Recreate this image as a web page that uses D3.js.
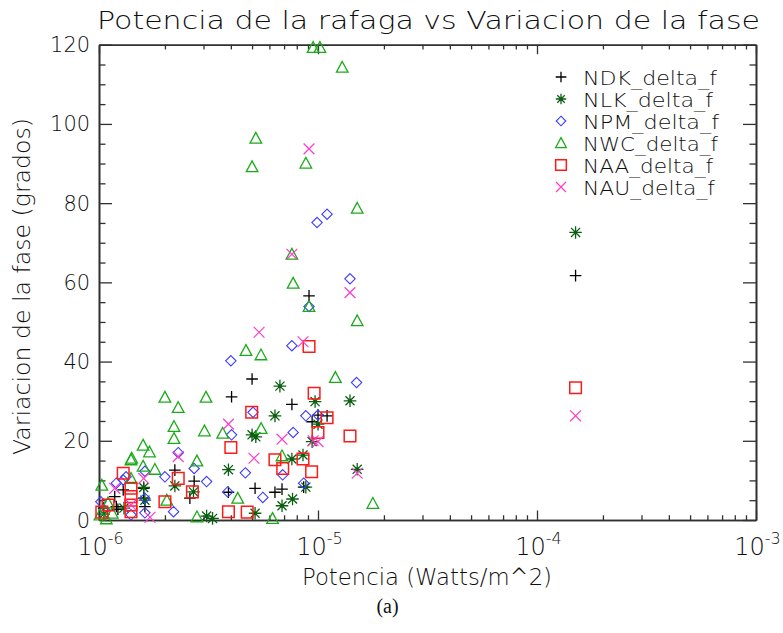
<!DOCTYPE html>
<html><head><meta charset="utf-8">
<script src="https://cdn.jsdelivr.net/npm/d3@7"></script>
<style>
html,body{margin:0;padding:0;background:#fff;}
svg{display:block;}
</style></head>
<body>
<svg id="chart" width="783" height="633"></svg>
<script>
// ---------- data ----------
const seriesNames = ["NDK_delta_f","NLK_delta_f","NPM_delta_f","NWC_delta_f","NAA_delta_f","NAU_delta_f"];

const ndkX = [1.5e-4, 9.1e-6, 5.0e-6, 4.03e-6, 7.6e-6, 1.1e-5, 1.0e-5, 9.4e-6, 8.6e-6, 5.16e-6, 6.36e-6, 6.85e-6, 2.22e-6, 2.72e-6, 3.9e-6, 2.6e-6, 1.18e-6, 1.2e-6, 1.6e-6, 1.6e-6, 1.62e-6, 1.29e-6, 1.22e-6, 1.05e-6];
const ndkY = [61.7, 56.6, 35.6, 31.1, 29.2, 26.3, 26.5, 24.8, 8.3, 8.0, 7.0, 7.8, 12.6, 9.8, 7.0, 5.5, 5.9, 3.4, 8.0, 5.5, 3.4, 7.6, 2.7, 3.0];

const nlkX = [1.5e-4, 6.7e-6, 9.7e-6, 1.4e-5, 6.36e-6, 1.0e-5, 5.0e-6, 5.2e-6, 9.4e-6, 8.54e-6, 7.6e-6, 1.51e-5, 3.9e-6, 8.8e-6, 7.65e-6, 6.85e-6, 5.16e-6, 2.22e-6, 2.7e-6, 3.1e-6, 3.3e-6, 1.6e-6, 1.62e-6, 1.3e-6, 1.05e-6];
const nlkY = [72.6, 33.8, 29.9, 30.1, 26.3, 24.2, 21.5, 21.0, 19.8, 16.4, 15.4, 12.8, 12.7, 8.3, 5.3, 3.6, 1.7, 8.6, 7.1, 1.0, 0.4, 8.2, 5.0, 3.0, 1.5];

const npmX = [1.4e-5, 9.9e-6, 1.1e-5, 9.1e-6, 7.6e-6, 4.0e-6, 1.5e-5, 5.05e-6, 8.8e-6, 1.0e-5, 7.7e-6, 4.03e-6, 2.3e-6, 2.72e-6, 4.66e-6, 6.9e-6, 8.6e-6, 3.1e-6, 5.6e-6, 3.87e-6, 2.0e-6, 2.19e-6, 1.33e-6, 1.2e-6, 1.62e-6, 1.62e-6, 1.4e-6, 1.62e-6, 1.02e-6, 1.06e-6, 1.29e-6];
const npmY = [60.9, 75.1, 77.2, 53.9, 44.0, 40.2, 34.7, 27.2, 26.3, 26.5, 22.1, 21.5, 17.0, 13.0, 11.9, 11.4, 9.3, 9.7, 5.7, 7.1, 10.9, 2.1, 10.9, 9.3, 12.3, 1.8, 1.3, 5.5, 4.6, 2.5, 10.1];

const nwcX = [9.5e-6, 1.02e-5, 1.29e-5, 5.2e-6, 5.0e-6, 8.8e-6, 1.51e-5, 7.6e-6, 7.7e-6, 9.1e-6, 1.51e-5, 4.69e-6, 5.49e-6, 1.2e-5, 2.0e-6, 3.08e-6, 2.3e-6, 2.2e-6, 2.2e-6, 3.03e-6, 3.67e-6, 5.5e-6, 6.85e-6, 2.8e-6, 4.3e-6, 2.8e-6, 6.2e-6, 1.78e-5, 1.59e-6, 1.7e-6, 1.4e-6, 1.41e-6, 1.59e-6, 1.8e-6, 1.03e-6, 1.1e-6, 1.01e-6, 1.4e-6, 2.04e-6, 1.08e-6, 1.15e-6];
const nwcY = [119.3, 119.3, 114.3, 96.4, 89.2, 90.1, 78.7, 67.1, 59.8, 53.9, 50.3, 42.8, 41.7, 36.0, 31.0, 31.0, 28.4, 23.6, 20.6, 22.5, 21.9, 23.1, 16.2, 14.9, 5.5, 0.8, 0.4, 4.2, 18.9, 17.2, 15.2, 15.6, 13.6, 12.8, 8.8, 4.3, 1.3, 10.5, 5.0, 0.3, 1.7];

const naaX = [1.5e-4, 9.1e-6, 9.6e-6, 4.98e-6, 1.1e-5, 1.0e-5, 1.4e-5, 4.0e-6, 6.36e-6, 6.9e-6, 8.54e-6, 9.35e-6, 3.9e-6, 4.75e-6, 2.3e-6, 2.67e-6, 2.0e-6, 1.29e-6, 1.4e-6, 1.4e-6, 1.4e-6, 1.4e-6, 1.1e-6, 1.03e-6];
const naaY = [33.4, 43.8, 32.0, 27.2, 25.8, 22.1, 21.2, 18.3, 15.2, 13.0, 15.4, 12.2, 2.1, 2.0, 10.5, 7.1, 4.6, 11.8, 8.0, 5.9, 3.8, 2.1, 3.8, 2.0];

const nauX = [1.5e-4, 9.1e-6, 7.6e-6, 1.4e-5, 5.38e-6, 8.54e-6, 3.9e-6, 6.85e-6, 1.0e-5, 5.1e-6, 1.51e-5, 2.3e-6, 1.6e-6, 1.71e-6, 1.18e-6, 1.4e-6, 9.5e-6];
const nauY = [26.3, 93.7, 67.1, 57.4, 47.4, 45.0, 24.2, 20.4, 19.8, 15.6, 11.8, 16.0, 10.5, 0.7, 8.0, 3.8, 20.0];

const xMajorTicks = [1e-6, 1e-5, 1e-4, 1e-3];
const xTickExponents = ["-6", "-5", "-4", "-3"];
const yMajorTicks = [0, 20, 40, 60, 80, 100, 120];

const titleText = "Potencia de la rafaga vs Variacion de la fase";
const xTitle = "Potencia (Watts/m^2)";
const yTitle = "Variacion de la fase (grados)";
const caption = "(a)";

// ---------- drawing ----------
const svg = d3.select("#chart");
const FONT = "'DejaVu Sans', 'Liberation Sans', sans-serif";
const FW = 200;
const TXT = "#0e0e0e";
const AX = "#303030";

const x = d3.scaleLog().domain([1e-6, 1e-3]).range([99, 756]);
const y = d3.scaleLinear().domain([0, 120]).range([520, 44.7]);

const xMinor = [];
for (let e = -6; e < -3; e++) for (let m = 2; m <= 9; m++) xMinor.push(m * Math.pow(10, e));
const yMinor = d3.range(0, 121, 5).filter(v => v % 20 !== 0);

function styleAxis(g) {
  g.selectAll("path.domain").attr("stroke", AX).attr("stroke-width", 1.6);
  g.selectAll(".tick line").attr("stroke", AX).attr("stroke-width", 1.3);
}
const yTop = y(120), yBot = y(0), xL = x(1e-6), xR = x(1e-3);

// bottom
svg.append("g").attr("transform", `translate(0,${yBot})`)
  .call(d3.axisBottom(x).tickValues(xMinor).tickSize(-4.75).tickSizeOuter(0).tickFormat("")).call(styleAxis);
svg.append("g").attr("transform", `translate(0,${yBot})`)
  .call(d3.axisBottom(x).tickValues(xMajorTicks).tickSize(-9.5).tickSizeOuter(0).tickFormat("")).call(styleAxis);
// top
svg.append("g").attr("transform", `translate(0,${yTop})`)
  .call(d3.axisTop(x).tickValues(xMinor).tickSize(-4.75).tickSizeOuter(0).tickFormat("")).call(styleAxis);
svg.append("g").attr("transform", `translate(0,${yTop})`)
  .call(d3.axisTop(x).tickValues(xMajorTicks).tickSize(-9.5).tickSizeOuter(0).tickFormat("")).call(styleAxis);
// left
svg.append("g").attr("transform", `translate(${xL},0)`)
  .call(d3.axisLeft(y).tickValues(yMinor).tickSize(-6.5).tickSizeOuter(0).tickFormat("")).call(styleAxis);
const gLeft = svg.append("g").attr("transform", `translate(${xL},0)`)
  .call(d3.axisLeft(y).tickValues(yMajorTicks).tickSize(-13).tickSizeOuter(0).tickPadding(9).tickFormat(d3.format("d")))
  .call(styleAxis);
gLeft.selectAll(".tick text")
  .attr("font-family", FONT).attr("font-weight", FW).attr("font-size", 22).attr("fill", TXT)
  .attr("textLength", d => String(d).length * 13.3).attr("lengthAdjust", "spacingAndGlyphs");
// right
svg.append("g").attr("transform", `translate(${xR},0)`)
  .call(d3.axisRight(y).tickValues(yMinor).tickSize(-6.5).tickSizeOuter(0).tickFormat("")).call(styleAxis);
svg.append("g").attr("transform", `translate(${xR},0)`)
  .call(d3.axisRight(y).tickValues(yMajorTicks).tickSize(-13).tickSizeOuter(0).tickFormat("")).call(styleAxis);

// x tick labels with superscripts
xMajorTicks.forEach((t, i) => {
  const tx = svg.append("text")
    .attr("x", x(t) + 1.5).attr("y", 555)
    .attr("text-anchor", "middle")
    .attr("font-family", FONT).attr("font-weight", FW).attr("fill", TXT);
  tx.append("tspan").attr("font-size", 24).text("10");
  tx.append("tspan").attr("font-size", 16).attr("dy", -11).text(xTickExponents[i]);
});

// titles
svg.append("text").attr("x", 428.5).attr("y", 29).attr("text-anchor", "middle")
  .attr("font-family", FONT).attr("font-weight", FW).attr("font-size", 25).attr("fill", TXT)
  .attr("textLength", 663).attr("lengthAdjust", "spacingAndGlyphs").text(titleText);
svg.append("text").attr("x", 427).attr("y", 585).attr("text-anchor", "middle")
  .attr("font-family", FONT).attr("font-weight", FW).attr("font-size", 23).attr("fill", TXT)
  .attr("textLength", 250).attr("lengthAdjust", "spacingAndGlyphs").text(xTitle);
svg.append("text").attr("transform", "translate(30,286.5) rotate(-90)").attr("text-anchor", "middle")
  .attr("font-family", FONT).attr("font-weight", FW).attr("font-size", 23).attr("fill", TXT)
  .attr("textLength", 337).attr("lengthAdjust", "spacingAndGlyphs").text(yTitle);
svg.append("text").attr("x", 387.5).attr("y", 613).attr("text-anchor", "middle")
  .attr("font-family", "'Liberation Serif','DejaVu Serif',serif").attr("font-size", 20).attr("fill", "#111")
  .text(caption);

// symbols
const sym = {
  plus: s => `M${-s},0H${s}M0,${-s}V${s}`,
  star: s => { const d = s * 0.72; return `M${-s},0H${s}M0,${-s}V${s}M${-d},${-d}L${d},${d}M${-d},${d}L${d},${-d}`; },
  diamond: s => `M0,${-s}L${s},0L0,${s}L${-s},0Z`,
  triangle: s => `M0,${-s}L${s},${s * 0.85}L${-s},${s * 0.85}Z`,
  square: s => `M${-s},${-s}H${s}V${s}H${-s}Z`,
  cross: s => `M${-s},${-s}L${s},${s}M${-s},${s}L${s},${-s}`
};

const series = [
  {name: seriesNames[0], xs: ndkX, ys: ndkY, shape: "plus", size: 5.8, color: "#000000", w: 1.3},
  {name: seriesNames[1], xs: nlkX, ys: nlkY, shape: "star", size: 6.3, color: "#0b5e12", w: 1.3},
  {name: seriesNames[2], xs: npmX, ys: npmY, shape: "diamond", size: 5.2, color: "#3c3cff", w: 1.1},
  {name: seriesNames[3], xs: nwcX, ys: nwcY, shape: "triangle", size: 5.8, color: "#1aab1a", w: 1.3},
  {name: seriesNames[4], xs: naaX, ys: naaY, shape: "square", size: 5.8, color: "#ff1a1a", w: 1.5},
  {name: seriesNames[5], xs: nauX, ys: nauY, shape: "cross", size: 5.4, color: "#ff3cc8", w: 1.2}
];

const plotG = svg.append("g");
series.forEach(s => {
  const pts = s.xs.map((v, i) => [v, s.ys[i]]);
  const g = plotG.append("g");
  g.selectAll("path").data(pts).enter().append("path")
    .attr("transform", d => `translate(${x(d[0])},${y(d[1])})`)
    .attr("d", sym[s.shape](s.size))
    .attr("fill", "none").attr("stroke", s.color).attr("stroke-width", s.w);
  if (s.shape === "star") {
    g.selectAll("circle").data(pts).enter().append("circle")
      .attr("cx", d => x(d[0])).attr("cy", d => y(d[1])).attr("r", 1.7).attr("fill", s.color);
  }
});

// legend
const legend = svg.append("g");
series.forEach((s, i) => {
  const ly = 77 + i * 22;
  const ss = s.shape === "star" ? 5.2 : s.size * 0.92;
  legend.append("path").attr("transform", `translate(561,${ly})`)
    .attr("d", sym[s.shape](ss)).attr("fill", "none").attr("stroke", s.color).attr("stroke-width", s.w);
  if (s.shape === "star") legend.append("circle").attr("cx", 561).attr("cy", ly).attr("r", 1.5).attr("fill", s.color);
  legend.append("text").attr("x", 583).attr("y", ly + 7.5)
    .attr("font-family", FONT).attr("font-weight", FW).attr("font-size", 20).attr("fill", TXT)
    .attr("textLength", [134, 130, 136, 135, 130, 132][i]).attr("lengthAdjust", "spacingAndGlyphs")
    .text(s.name);
});
</script>
</body></html>
